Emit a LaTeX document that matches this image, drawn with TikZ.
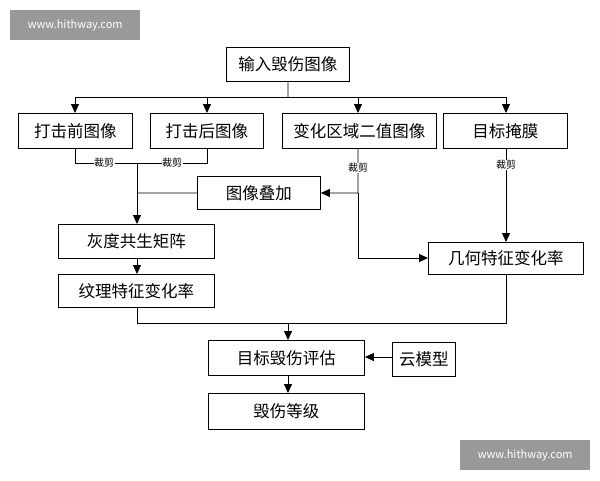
\documentclass[tikz,border=0pt]{standalone}
\usepackage{fontspec}
\setmainfont{Noto Sans CJK SC}
\usetikzlibrary{arrows.meta}
\begin{document}
\begin{tikzpicture}[x=1pt,y=-1pt,
 box/.style={draw,line width=0.9pt,anchor=north west,inner sep=0pt,font=\fontsize{16.5}{18}\selectfont},
 ln/.style={line width=0.9pt},
 ar/.style={ln,-{Triangle[length=9pt,width=8pt]}},
 lab/.style={fill=white,inner sep=0.5pt,font=\fontsize{10}{11}\selectfont},
 wm/.style={fill=black!40,text=white,inner sep=0pt,anchor=north west,font=\fontsize{11}{12}\selectfont}]
\useasboundingbox (0,0) rectangle (600,480);
\newcommand{\bx}[6]{\node[box,minimum width=#4-#2,minimum height=#5-#3] (#1) at (#2,#3) {#6};}
\node[wm,minimum width=130,minimum height=30] (w1) at (10,10) {www.hithway.com};
\node[wm,minimum width=130,minimum height=30] (w2) at (460,440) {www.hithway.com};
\bx{in}{226}{47}{349}{81}{输入毁伤图像}
\bx{pre}{18}{113}{132}{148}{打击前图像}
\bx{post}{150}{113}{263}{148}{打击后图像}
\bx{chg}{282}{113}{436}{148}{变化区域二值图像}
\bx{msk}{443}{113}{567}{148}{目标掩膜}
\bx{ovl}{197}{176}{320}{209}{图像叠加}
\bx{glcm}{58}{224}{214}{258}{灰度共生矩阵}
\bx{tex}{58}{274}{214}{307}{纹理特征变化率}
\bx{geo}{428}{242}{583}{274}{几何特征变化率}
\bx{eval}{208}{340}{364}{375}{目标毁伤评估}
\bx{cloud}{392}{342}{455}{376}{云模型}
\bx{grade}{208}{393}{364}{429}{毁伤等级}
\coordinate (bus) at (288,97);
\draw[ln] (in.south) -- (bus);
\draw[ar] (75,97) -- (pre.north-|75,0);
\draw[ar] (207,97) -- (post.north-|207,0);
\draw[ar] (358,97) -- (chg.north-|358,0);
\draw[ar] (506,97) -- (msk.north-|506,0);
\draw[ln] (75,97) -- (506,97);
\draw[ln] (pre.south-|75,0) -- (75,163) -- (207,163) -- (post.south-|207,0);
\node[lab] (c1) at (104,163) {裁剪};
\node[lab] (c2) at (172,163) {裁剪};
\draw[ar] (137,163) -- (glcm.north-|137,0);
\draw[ln] (ovl.west) -- (137,193);
\draw[ar] (chg.south-|358,0) -- (358,193) -- (ovl.east);
\draw[ar] (358,193) -- (358,258) -- (geo.west|-0,258);
\node[lab] (c3) at (358,168) {裁剪};
\draw[ar] (msk.south-|506,0) -- (geo.north-|506,0);
\node[lab] (c4) at (506,165) {裁剪};
\draw[ar] (glcm.south-|137,0) -- (tex.north-|137,0);
\draw[ln] (tex.south-|137,0) -- (137,323) -- (506,323) -- (geo.south-|506,0);
\draw[ar] (288,323) -- (eval.north-|288,0);
\draw[ar] (cloud.west|-0,357) -- (eval.east|-0,357);
\draw[ar] (eval.south-|288,0) -- (grade.north-|288,0);
\end{tikzpicture}
\end{document}
